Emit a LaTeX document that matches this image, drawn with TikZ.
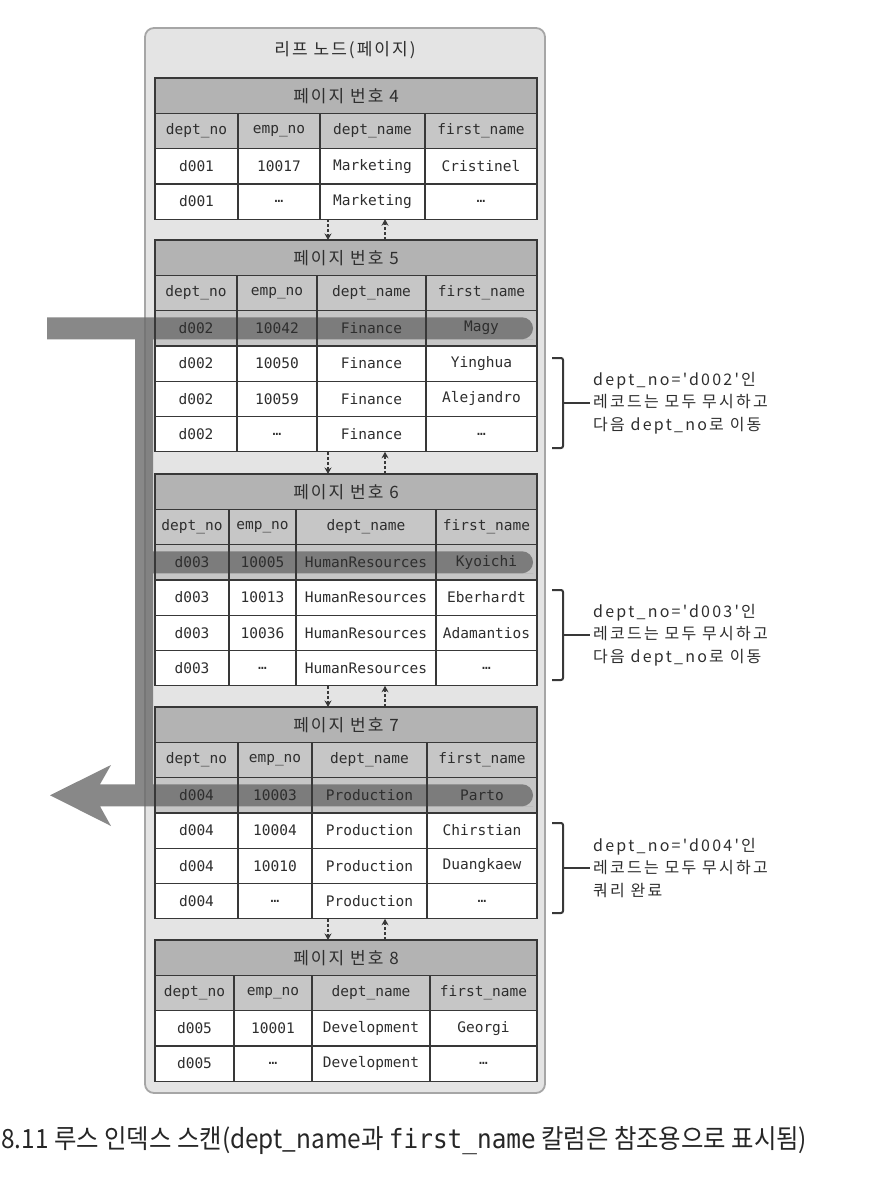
\documentclass[tikz,border=0pt]{standalone}
\usepackage{fontspec}
\usepackage{graphicx}
\setmonofont{DejaVu Sans Mono}
\newfontfamily\kofont{Noto Sans CJK KR}[LetterSpace=12]
\newfontfamily\notefont{Noto Sans CJK KR}[LetterSpace=14]
\newfontfamily\capfont{Noto Sans CJK KR}
\usetikzlibrary{arrows.meta,calc}
\pgfdeclarelayer{background}
\pgfsetlayers{background,main}

\definecolor{framefill}{HTML}{E4E4E4}
\definecolor{framegray}{HTML}{A6A6A6}
\definecolor{titlefill}{HTML}{B3B3B3}
\definecolor{headfill}{HTML}{C6C6C6}
\definecolor{tabline}{HTML}{383838}
\definecolor{inkgray}{HTML}{2E2E2E}
\definecolor{scangray}{HTML}{6A6A6A}

\tikzset{
  leafbox/.style={draw=framegray, fill=framefill, line width=1.8pt, rounded corners=9pt, inner sep=0pt, outer sep=0pt, anchor=north west},
  cell/.style={draw=tabline, line width=1.3pt, inner sep=0pt, outer sep=0pt, minimum height=35.3pt, anchor=north west, text=inkgray, font=\ttfamily\fontsize{14.5}{17}\selectfont},
  kohead/.style={font=\kofont\fontsize{17}{20}\selectfont},
  pagelink/.style={draw=tabline, line width=1.2pt, dash pattern=on 3pt off 2pt, -{Stealth[length=6.5pt,width=7pt]}},
  bracket/.style={draw=tabline, line width=2pt, rounded corners=2pt},
  note/.style={align=left, inner sep=3pt, anchor=west, text=inkgray, font=\notefont\fontsize{16}{22.5}\selectfont},
  scanbar/.style={fill=scangray, fill opacity=0.8},
}

% one leaf page: name, top, three column edges, page no, first-row fill, rows
\newcommand{\leafpage}[8]{%
  \node[cell, fill=titlefill, kohead, minimum width=382] (#1) at (155,#2) {페이지 번호 #6};
  \node[cell, fill=headfill, minimum width={#3-155}] (#1-h1) at (155,{#2+35.3}) {dept\_no};
  \node[cell, fill=headfill, minimum width={#4-#3}] (#1-h2) at (#3,{#2+35.3}) {emp\_no};
  \node[cell, fill=headfill, minimum width={#5-#4}] (#1-h3) at (#4,{#2+35.3}) {dept\_name};
  \node[cell, fill=headfill, minimum width={537-#5}] (#1-h4) at (#5,{#2+35.3}) {first\_name};
  \foreach \dno/\eno/\dname/\fname [count=\r] in {#8} {
    \ifnum\r=1 \def\rowfill{#7}\else\def\rowfill{white}\fi
    \node[cell, fill=\rowfill, minimum width={#3-155}] (#1-\r-1) at (155,{#2+35.3*(\r+1)}) {\dno};
    \node[cell, fill=\rowfill, minimum width={#4-#3}] (#1-\r-2) at (#3,{#2+35.3*(\r+1)}) {\eno};
    \node[cell, fill=\rowfill, minimum width={#5-#4}] (#1-\r-3) at (#4,{#2+35.3*(\r+1)}) {\dname};
    \node[cell, fill=\rowfill, minimum width={537-#5}] (#1-\r-4) at (#5,{#2+35.3*(\r+1)}) {\fname};
  }
}

\begin{document}
\begin{tikzpicture}[x=1pt, y=-1pt]
\useasboundingbox (0,0) rectangle (876,1198);

\node[text=inkgray, kohead] (leaftitle) at (345,50) {리프 노드(페이지)};

\leafpage{p4}{78}{238}{320}{425}{4}{white}{d001/10017/Marketing/Cristinel, d001/…/Marketing/…}
\leafpage{p5}{240}{237}{317}{426}{5}{none}{d002/10042/Finance/Magy, d002/10050/Finance/Yinghua, d002/10059/Finance/Alejandro, d002/…/Finance/…}
\leafpage{p6}{474}{229}{296}{436}{6}{none}{d003/10005/HumanResources/Kyoichi, d003/10013/HumanResources/Eberhardt, d003/10036/HumanResources/Adamantios, d003/…/HumanResources/…}
\leafpage{p7}{707}{238}{312}{427}{7}{none}{d004/10003/Production/Parto, d004/10004/Production/Chirstian, d004/10010/Production/Duangkaew, d004/…/Production/…}
\leafpage{p8}{940}{234}{312}{430}{8}{white}{d005/10001/Development/Georgi, d005/…/Development/…}

% links between sibling pages
\coordinate (down) at (328,0);
\coordinate (up) at (385,0);
\foreach \s/\t in {p4-2-3/p5, p5-4-3/p6, p6-4-3/p7, p7-4-3/p8} {
  \draw[pagelink] (\s.south -| down) -- (\t.north -| down);
  \draw[pagelink] (\t.north -| up) -- (\s.south -| up);
}

% skipped records
\node[note] (note5) at (590,403) {dept\_no='d002'인\\레코드는 모두 무시하고\\다음 dept\_no로 이동};
\draw[bracket] (552,358) -- (563,358) -- (563,448) -- (552,448);
\draw[bracket] (563,403) -- (note5.west);

\node[note] (note6) at (590,635) {dept\_no='d003'인\\레코드는 모두 무시하고\\다음 dept\_no로 이동};
\draw[bracket] (552,590) -- (563,590) -- (563,680) -- (552,680);
\draw[bracket] (563,635) -- (note6.west);

\node[note] (note7) at (590,868) {dept\_no='d004'인\\레코드는 모두 무시하고\\쿼리 완료};
\draw[bracket] (552,823) -- (563,823) -- (563,913) -- (552,913);
\draw[bracket] (563,868) -- (note7.west);

\node[anchor=west, inner sep=0pt, text=black!85] (caption) at (1,1141) {\resizebox{806pt}{22pt}{\capfont\fontsize{20}{24}\selectfont 8.11 루스 인덱스 스캔(dept\_name과 {\ttfamily first\_name} 칼럼은 참조용으로 표시됨)}};

\begin{pgfonlayer}{background}
\node[leafbox, minimum width=400, minimum height=1065] (leaf) at (145,28) {};
\foreach \p in {p5,p6,p7}
  \fill[headfill] (\p-1-1.north west) rectangle (\p-1-4.south east);
% the loose scan path
\fill[scanbar]
  (47,317.25) -- (522,317.25) [rounded corners=11pt] -- (533,317.25) -- (533,339.25) -- (522,339.25) [sharp corners] -- (47,339.25) -- cycle
  (135,317.25) -- (153,317.25) -- (153,806.25) -- (135,806.25) -- cycle
  (135,551.25) -- (522,551.25) [rounded corners=11pt] -- (533,551.25) -- (533,573.25) -- (522,573.25) [sharp corners] -- (135,573.25) -- cycle
  (100,784.25) -- (522,784.25) [rounded corners=11pt] -- (533,784.25) -- (533,806.25) -- (522,806.25) [sharp corners] -- (100,806.25) -- cycle
  (50,795.25) -- (111,765) -- (100,784.25) -- (100,806.25) -- (111,826) -- cycle;
\end{pgfonlayer}
\end{tikzpicture}
\end{document}
